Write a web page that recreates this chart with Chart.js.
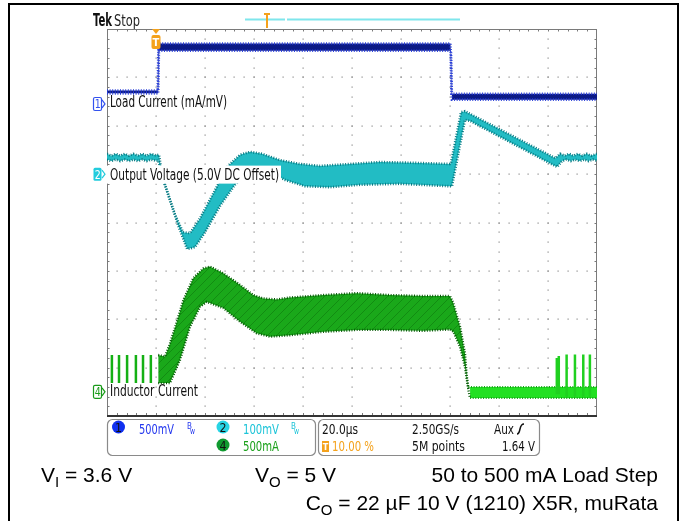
<!DOCTYPE html>
<html><head><meta charset="utf-8">
<script src="https://cdn.jsdelivr.net/npm/chart.js@4.4.1/dist/chart.umd.min.js"></script>
<style>html,body{margin:0;padding:0;background:#fff;}#wrap{width:683px;height:521px;}</style>
</head><body><div id="wrap"><canvas id="c" width="683" height="521"></canvas></div>
<script>
// ===== DATA (x = time in µs, 20 µs/div; y = screen divisions 0..8) =====
const timeRange = [0, 200];
const divRange = [0, 8];

// Channel 1: load current (band envelopes)
const loadCurrentTop = [[0,6.73],[20.7,6.73],[21.0,7.70],[140.2,7.70],[140.6,6.66],[200,6.66]];
const loadCurrentBottom = [[0,6.67],[20.9,6.67],[21.2,7.55],[140.4,7.55],[140.8,6.54],[200,6.54]];

// Channel 2: output voltage (band envelopes)
const outputVoltageTop = [[0,5.42],[1.8,5.38],[3.6,5.42],[5.4,5.38],[7.2,5.42],[9.0,5.38],[10.8,5.42],[12.6,5.38],[14.4,5.42],[16.2,5.38],[18.0,5.42],[19.8,5.39],[21.2,5.40],
  [22.9,4.88],[27.8,4.16],[31.0,3.80],[33.9,3.78],[38.0,4.09],[44.1,4.67],[49.4,5.17],[54.3,5.40],[58.4,5.46],[63.3,5.42],[70.6,5.29],[78.8,5.21],[86.9,5.17],[99.2,5.21],[111.4,5.25],[127.8,5.23],[140.0,5.21],
  [140.4,5.23],[144.5,6.28],[146.1,6.30],[183.0,5.33],[185.0,5.42],[186.8,5.38],[188.6,5.42],[190.4,5.38],[192.2,5.42],[194.0,5.38],[195.8,5.42],[197.6,5.38],[200,5.42]];
const outputVoltageBottom = [[0,5.30],[1.8,5.27],[3.6,5.30],[5.4,5.27],[7.2,5.30],[9.0,5.27],[10.8,5.30],[12.6,5.27],[14.4,5.30],[16.2,5.27],[18.0,5.30],[19.8,5.28],[20.9,5.28],
  [23.7,4.78],[29.0,3.95],[32.7,3.45],[35.9,3.49],[40.0,3.80],[46.1,4.34],[52.2,4.78],[58.4,5.04],[64.5,5.09],[72.7,4.88],[80.8,4.75],[91.0,4.73],[103.3,4.78],[119.6,4.80],[140.0,4.75],
  [140.8,4.75],[146.1,6.12],[148.2,6.10],[182.9,5.17],[183.7,5.15],[185.7,5.27],[187.5,5.30],[189.3,5.27],[191.1,5.30],[192.9,5.27],[194.7,5.30],[196.5,5.27],[198.3,5.30],[200,5.28]];

// Channel 4: inductor current (band envelopes + discontinuous pulses)
const inductorTop = [[20.9,1.26],[23.7,1.23],[25.7,1.50],[28.5,1.95],[31.2,2.40],[35.2,2.85],[39.3,3.05],[42.0,3.09],[47.5,2.95],[54.3,2.71],[59.7,2.50],[63.8,2.43],[69.3,2.41],[74.7,2.45],[88.3,2.50],[101.9,2.54],[115.5,2.50],[129.1,2.48],[140.0,2.48],[141.4,2.33],[144.1,1.85],[146.1,1.30],[146.8,0.85],[147.5,0.57]];
const inductorBottom = [[20.9,0.68],[25.7,0.68],[29.8,1.16],[33.9,1.85],[38.0,2.26],[40.7,2.36],[47.5,2.23],[54.3,1.95],[61.1,1.71],[66.5,1.64],[74.7,1.67],[88.3,1.74],[101.9,1.78],[115.5,1.78],[129.1,1.76],[140.0,1.79],[141.4,1.74],[144.1,1.43],[146.1,1.02],[147.5,0.54],[148.2,0.37]];
const inductorLightTop = [[147.5,0.60],[200,0.60]];
const inductorLightBottom = [[148.2,0.37],[200,0.37]];
// pulses: [time, low, high]
const inductorStartPulses = [[2.0,0.68,1.26],[4.9,0.68,1.26],[8.2,0.68,1.26],[11.8,0.68,1.26],[14.7,0.68,1.26],[17.9,0.68,1.26]];
const inductorEndPulses = [[183.6,0.45,1.20],[184.4,0.45,1.24],[187.6,0.40,1.27],[191.0,0.40,1.27],[194.4,0.40,1.27],[197.1,0.40,1.27]];

// Scope readout texts
const channelLabels = ['Load Current (mA/mV)', 'Output Voltage (5.0V DC Offset)', 'Inductor Current'];
const channelNumbers = ['1', '2', '4'];
const channelScales = ['500mV', '100mV', '500mA'];
const timebaseTexts = ['20.0\u00b5s', '2.50GS/s', 'Aux', '10.00 %', '5M points', '1.64 V'];
const headerTexts = ['Tek', 'Stop'];

// ===== helpers =====
const xy = a => a.map(p => ({x: p[0], y: p[1]}));
const pulses = list => { const o = []; list.forEach(p => { o.push({x:p[0],y:p[1]},{x:p[0],y:p[2]},{x:p[0],y:null}); }); return o; };

const pc = document.createElement('canvas'); pc.width = 9; pc.height = 9;
const pctx = pc.getContext('2d');
pctx.fillStyle = '#1aa81a'; pctx.fillRect(0,0,9,9);
pctx.strokeStyle = '#128c12'; pctx.lineWidth = 1;
pctx.beginPath(); pctx.moveTo(0,9); pctx.lineTo(9,0); pctx.moveTo(-2,2); pctx.lineTo(2,-2); pctx.moveTo(7,11); pctx.lineTo(11,7); pctx.stroke();
const greenPattern = pctx.createPattern(pc, 'repeat');

const SF = '"DejaVu Sans Condensed","Liberation Sans Narrow","DejaVu Sans",sans-serif';
const AF = '"Liberation Sans",Arial,sans-serif';

function t(ctx, s, x, y, size, color, maxW, opts) {
  opts = opts || {};
  ctx.font = (opts.bold ? 'bold ' : '') + size + 'px ' + (opts.family || SF);
  ctx.fillStyle = color; ctx.textAlign = opts.align || 'left'; ctx.textBaseline = 'alphabetic';
  if (maxW) ctx.fillText(s, x, y, maxW); else ctx.fillText(s, x, y);
}
function runs(ctx, list, x, y, align) {
  let w = 0;
  list.forEach(r => { ctx.font = (r.sub ? 15 : 21) + 'px ' + AF; w += ctx.measureText(r.s).width; });
  let cx = align === 'right' ? x - w : x;
  ctx.fillStyle = '#000'; ctx.textAlign = 'left'; ctx.textBaseline = 'alphabetic';
  list.forEach(r => { ctx.font = (r.sub ? 15 : 21) + 'px ' + AF; ctx.fillText(r.s, cx, y + (r.sub ? 5 : 0)); cx += ctx.measureText(r.s).width; });
}
function rr(ctx, x, y, w, h, r) { ctx.beginPath(); ctx.roundRect(x, y, w, h, r); }

const scopeArt = {
  id: 'scopeArt',
  beforeDraw(chart) {
    const ctx = chart.ctx;
    ctx.save();
    ctx.fillStyle = '#fff'; ctx.fillRect(0, 0, chart.width, chart.height);
    ctx.fillStyle = '#000';
    ctx.fillRect(8, 3, 2, chart.height - 3);
    ctx.fillRect(8, 3, 671, 2);
    ctx.fillRect(677, 3, 2, chart.height - 3);
    ctx.restore();
  },
  beforeDatasetsDraw(chart) {
    const {ctx, chartArea: a, scales: {x, y}} = chart;
    ctx.save();
    ctx.fillStyle = '#8a8a8a';
    for (let i = 1; i < 10; i++) {
      const px = Math.round(x.getPixelForValue(i * 20));
      for (let j = 1; j < 40; j++) { const py = Math.round(y.getPixelForValue(j * 0.2)); ctx.fillRect(px - 0.5, py - 0.5, 1.2, 1.2); }
    }
    for (let j = 1; j < 8; j++) {
      const py = Math.round(y.getPixelForValue(j));
      for (let i = 1; i < 50; i++) { const px = Math.round(x.getPixelForValue(i * 4)); ctx.fillRect(px - 0.5, py - 0.5, 1.2, 1.2); }
    }
    // frame
    ctx.strokeStyle = '#7a7a7a'; ctx.lineWidth = 1;
    ctx.beginPath();
    ctx.moveTo(a.left + 0.5, a.top); ctx.lineTo(a.left + 0.5, a.bottom);
    ctx.moveTo(a.right - 0.5, a.top); ctx.lineTo(a.right - 0.5, a.bottom);
    ctx.moveTo(a.left, a.top + 0.5); ctx.lineTo(a.right, a.top + 0.5);
    for (let i = 1; i < 50; i++) { const px = Math.round(x.getPixelForValue(i * 4)) + 0.5; ctx.moveTo(px, a.top); ctx.lineTo(px, a.top + 2.5); ctx.moveTo(px, a.bottom); ctx.lineTo(px, a.bottom - 3); }
    for (let j = 1; j < 40; j++) { const py = Math.round(y.getPixelForValue(j * 0.2)) + 0.5; ctx.moveTo(a.left, py); ctx.lineTo(a.left + 2.5, py); ctx.moveTo(a.right, py); ctx.lineTo(a.right - 2.5, py); }
    ctx.stroke();
    ctx.fillStyle = '#333'; ctx.fillRect(a.left, a.bottom - 1, a.right - a.left, 2);
    ctx.restore();
  },
  afterDatasetsDraw(chart) {
    const {ctx, chartArea: a, scales: {x, y}} = chart;
    ctx.save();
    // header
    t(ctx, headerTexts[0], 93, 26, 17, '#111', 19, {bold: true});
    t(ctx, headerTexts[1], 114, 26, 15, '#222', 26);
    ctx.fillStyle = '#7fe6ec';
    ctx.fillRect(245, 18.5, 40, 2); ctx.fillRect(287, 18.5, 173, 2);
    ctx.fillStyle = '#f4a21c';
    ctx.fillRect(264, 13, 6, 2); ctx.fillRect(266, 13, 2, 15);
    // trigger marker
    const tx = x.getPixelForValue(20);
    ctx.fillStyle = '#f4a21c';
    ctx.beginPath(); ctx.moveTo(tx - 4, a.top); ctx.lineTo(tx + 4, a.top); ctx.lineTo(tx, a.top + 5); ctx.closePath(); ctx.fill();
    rr(ctx, tx - 4.5, a.top + 6, 9, 14, 2); ctx.fill();
    t(ctx, 'T', tx, a.top + 17, 11, '#fff', 7, {align: 'center', bold: true});

    // channel markers
    const ch = [
      {v: 6.45, col: '#3352ee', fill: null, tcol: '#3352ee', base: 106.5, w: 117},
      {v: 5.0, col: '#22ccdd', fill: '#22ccdd', tcol: '#fff', base: 180, w: 169},
      {v: 0.5, col: '#1a9a1a', fill: null, tcol: '#1a9a1a', base: 396, w: 88}
    ];
    ch.forEach((c, i) => {
      const cy = y.getPixelForValue(c.v);
      if (i === 1) { ctx.fillStyle = '#fff'; ctx.fillRect(106, cy - 8.5, 175, 18); }
      ctx.lineWidth = 1.2; ctx.strokeStyle = c.col;
      rr(ctx, 93.5, cy - 6.5, 8, 13, 1.5);
      if (c.fill) { ctx.fillStyle = c.fill; ctx.fill(); } else ctx.stroke();
      ctx.beginPath(); ctx.moveTo(102, cy - 4); ctx.lineTo(105, cy); ctx.lineTo(102, cy + 4);
      ctx.stroke();
      t(ctx, channelNumbers[i], 97.7, cy + 4.5, 12, c.tcol, 6, {align: 'center'});
      t(ctx, channelLabels[i], 110, c.base, 15.5, '#111', c.w);
    });

    // readout boxes
    ctx.lineWidth = 1.2; ctx.strokeStyle = '#8a8a8a'; ctx.fillStyle = '#fff';
    rr(ctx, 107.5, 419.5, 208, 36, 5); ctx.fill(); ctx.stroke();
    rr(ctx, 318.5, 419.5, 221, 36, 5); ctx.fill(); ctx.stroke();
    const circ = (cx, cy, col, s) => { ctx.fillStyle = col; ctx.beginPath(); ctx.arc(cx, cy, 6.5, 0, Math.PI * 2); ctx.fill(); t(ctx, s, cx, cy + 4.5, 12.5, '#111', 7, {align: 'center'}); };
    circ(118.5, 427, '#1030f0', channelNumbers[0]);
    circ(223, 427, '#28d4e4', channelNumbers[1]);
    circ(223, 445, '#109a30', channelNumbers[2]);
    const fs = 14.5;
    t(ctx, channelScales[0], 139, 434, fs, '#2438ee', 35);
    t(ctx, channelScales[1], 243, 434, fs, '#1cc4d8', 36);
    t(ctx, channelScales[2], 243, 451, fs, '#1aa01a', 36);
    t(ctx, 'B', 187, 429, 8, '#2438ee', 5); t(ctx, 'w', 190, 434, 8, '#2438ee', 5);
    t(ctx, 'B', 291, 429, 8, '#1cc4d8', 5); t(ctx, 'w', 294, 434, 8, '#1cc4d8', 5);
    t(ctx, timebaseTexts[0], 322, 434, fs, '#111', 36);
    t(ctx, timebaseTexts[1], 412, 434, fs, '#111', 47);
    t(ctx, timebaseTexts[2], 494, 434, fs, '#111', 20);
    ctx.strokeStyle = '#111'; ctx.lineWidth = 1.5; ctx.beginPath();
    ctx.moveTo(517, 434); ctx.quadraticCurveTo(519, 434, 520, 429); ctx.quadraticCurveTo(521, 424, 524, 424); ctx.stroke();
    ctx.fillStyle = '#f4a21c'; ctx.fillRect(322, 441, 7, 11);
    t(ctx, 'T', 325.5, 450, 9, '#fff', 6, {align: 'center', bold: true});
    t(ctx, timebaseTexts[3], 332, 451, fs, '#f4a21c', 42);
    t(ctx, timebaseTexts[4], 412, 451, fs, '#111', 53);
    t(ctx, timebaseTexts[5], 535, 451, fs, '#111', 33, {align: 'right'});

    // annotations
    runs(ctx, [{s: 'V'}, {s: 'I', sub: true}, {s: ' = 3.6 V'}], 41, 481.5);
    runs(ctx, [{s: 'V'}, {s: 'O', sub: true}, {s: ' = 5 V'}], 255, 481.5);
    runs(ctx, [{s: '50 to 500 mA Load Step'}], 658, 481.5, 'right');
    runs(ctx, [{s: 'C'}, {s: 'O', sub: true}, {s: ' = 22 \u00b5F 10 V (1210) X5R, muRata'}], 658, 510, 'right');
    ctx.restore();
  }
};

const fuzzy = (col, w) => ({borderColor: col, borderWidth: w, borderDash: [1, 1.6], pointRadius: 0, tension: 0});

const datasets = [
  Object.assign({label: 'ch1 top', data: xy(loadCurrentTop), fill: false, order: 0}, fuzzy('#2b40d8', 2.6)),
  Object.assign({label: 'ch1 bottom', data: xy(loadCurrentBottom), fill: '-1', backgroundColor: '#0c1a86', order: 0}, fuzzy('#2b40d8', 2.6)),
  Object.assign({label: 'ch2 top', data: xy(outputVoltageTop), fill: false, order: 1}, fuzzy('#087a82', 2.6)),
  Object.assign({label: 'ch2 bottom', data: xy(outputVoltageBottom), fill: '-1', backgroundColor: '#22bcc4', order: 1}, fuzzy('#087a82', 2.6)),
  Object.assign({label: 'ch4 top', data: xy(inductorTop), fill: false, order: 3}, fuzzy('#055a05', 2.4)),
  Object.assign({label: 'ch4 bottom', data: xy(inductorBottom), fill: '-1', backgroundColor: greenPattern, order: 3}, fuzzy('#055a05', 2.4)),
  Object.assign({label: 'ch4 light top', data: xy(inductorLightTop), fill: false, order: 4}, fuzzy('#12a812', 2)),
  Object.assign({label: 'ch4 light bottom', data: xy(inductorLightBottom), fill: '-1', backgroundColor: '#22e022', order: 4}, fuzzy('#12a812', 2)),
  {label: 'ch4 start pulses', data: pulses(inductorStartPulses), borderColor: '#14b014', borderWidth: 2.5, pointRadius: 0, fill: false, spanGaps: false, order: 2},
  {label: 'ch4 end pulses', data: pulses(inductorEndPulses), borderColor: '#20d020', borderWidth: 2.5, pointRadius: 0, fill: false, spanGaps: false, order: 2}
];

new Chart(document.getElementById('c'), {
  type: 'line',
  data: {datasets},
  options: {
    responsive: false, animation: false, events: [],
    layout: {padding: {left: 107, top: 29, right: 86, bottom: 105}},
    plugins: {legend: {display: false}, tooltip: {enabled: false}, filler: {propagate: false}},
    scales: {
      x: {type: 'linear', display: false, min: timeRange[0], max: timeRange[1]},
      y: {type: 'linear', display: false, min: divRange[0], max: divRange[1]}
    }
  },
  plugins: [scopeArt]
});
</script></body></html>
